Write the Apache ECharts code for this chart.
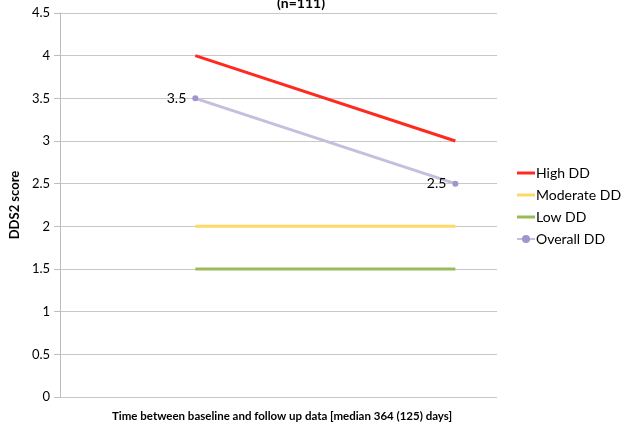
<!DOCTYPE html>
<html>
<head>
<meta charset="utf-8">
<script src="https://cdn.jsdelivr.net/npm/echarts@6/dist/echarts.min.js"></script>
<style>html,body{margin:0;padding:0;background:#fff;}#c{width:625px;height:427px;}</style>
</head>
<body>
<div id="c"></div>
<script>
const timepoints = [1, 2]; // baseline, follow up
const highDD = [4, 3];
const moderateDD = [2, 2];
const lowDD = [1.5, 1.5];
const overallDD = [3.5, 2.5];
const seriesNames = ['High DD', 'Moderate DD', 'Low DD', 'Overall DD'];
const titleText = '(n=111)';
const xName = 'Time between baseline and follow up data [median 364 (125) days]';
const yName = 'DDS2 score';

const FONT = 'Lato';
const pair = (vals) => timepoints.map((t, i) => [t, vals[i]]);
const lineIcon = 'path://M0,0 M0,3.5 L18,3.5 L18,6.5 L0,6.5 Z M18,10';

const chart = echarts.init(document.getElementById('c'), null, {renderer: 'canvas'});
chart.setOption({
  animation: false,
  backgroundColor: '#fff',
  title: {
    text: titleText, left: 296, top: -9, textAlign: 'center',
    textStyle: {fontFamily: FONT, fontSize: 14, fontWeight: 'bold', color: '#000'}
  },
  grid: {left: 60, right: 128, top: 13, bottom: 27, containLabel: false},
  legend: {
    orient: 'vertical', left: 511, top: 161, itemGap: 8,
    itemWidth: 18, itemHeight: 10,
    textStyle: {fontFamily: FONT, fontSize: 14, color: '#000', padding: [0, 0, 0, -4]},
    data: [
      {name: seriesNames[0], icon: lineIcon},
      {name: seriesNames[1], icon: lineIcon},
      {name: seriesNames[2], icon: lineIcon},
      {name: seriesNames[3]}
    ]
  },
  xAxis: {
    type: 'value', min: 0.48, max: 2.16,
    name: xName, nameLocation: 'middle', nameGap: 13,
    nameTextStyle: {fontFamily: FONT, fontSize: 11.5, fontWeight: 'bold', color: '#000', padding: [0, 0, 0, 7]},
    axisLine: {show: false}, axisTick: {show: false}, axisLabel: {show: false},
    splitLine: {show: false}
  },
  yAxis: {
    type: 'value', min: 0, max: 4.5, interval: 0.5,
    name: yName, nameLocation: 'middle', nameGap: 39, nameRotate: 90,
    nameTextStyle: {fontFamily: FONT, fontSize: 13, fontWeight: 'bold', color: '#000'},
    axisLine: {show: true, lineStyle: {color: '#bdbdbd', width: 1}},
    axisTick: {show: true, length: 6, lineStyle: {color: '#bdbdbd'}},
    axisLabel: {fontFamily: FONT, fontSize: 13, color: '#000', margin: 10},
    splitLine: {show: true, lineStyle: {color: '#c8c8c8', width: 1}}
  },
  series: [
    {name: seriesNames[0], type: 'line', data: pair(highDD), symbol: 'none',
     lineStyle: {color: '#ff2a1f', width: 3}, itemStyle: {color: '#ff2a1f'}},
    {name: seriesNames[1], type: 'line', data: pair(moderateDD), symbol: 'none',
     lineStyle: {color: '#ffd866', width: 3}, itemStyle: {color: '#ffd866'}},
    {name: seriesNames[2], type: 'line', data: pair(lowDD), symbol: 'none',
     lineStyle: {color: '#9bbb59', width: 3}, itemStyle: {color: '#9bbb59'}},
    {name: seriesNames[3], type: 'line', data: pair(overallDD), symbol: 'circle', symbolSize: 6,
     lineStyle: {color: '#c6bedd', width: 3}, itemStyle: {color: '#a394cf', borderWidth: 0},
     label: {show: true, position: 'left', distance: 6, fontFamily: FONT, fontSize: 14, color: '#000',
       formatter: p => p.value[1].toFixed(1)}}
  ]
});
</script>
</body>
</html>
